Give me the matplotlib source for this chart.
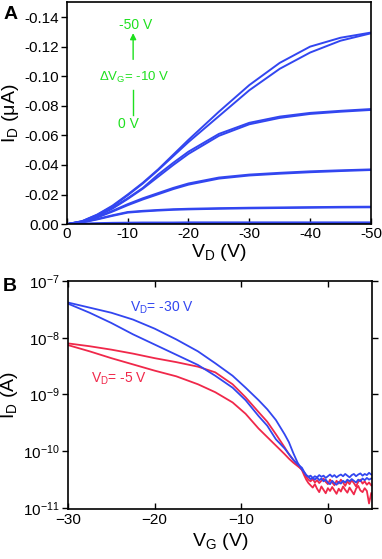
import matplotlib
matplotlib.use('Agg')
import matplotlib.pyplot as plt
import numpy as np

plt.rcParams['font.family'] = ['Liberation Sans', 'DejaVu Sans']
plt.rcParams['mathtext.fontset'] = 'custom'
plt.rcParams['mathtext.rm'] = 'Liberation Sans'
plt.rcParams['mathtext.it'] = 'Liberation Sans'
plt.rcParams['mathtext.default'] = 'regular'

blue = '#3246f0'
red = '#f0284a'
green = '#1ee01e'

# ---- panel A: output curves (VD sweep), forward/backward per VG
vd = [0, -2.5, -5, -7.5, -10, -12.5, -15, -17.5, -20, -25, -30, -35, -40, -45, -50]
id_vg50_f = [0, 0.002, 0.0065, 0.0125, 0.020, 0.028, 0.037, 0.047, 0.057, 0.076, 0.094, 0.109, 0.120, 0.126, 0.1295]
id_vg50_b = [0, 0.002, 0.0063, 0.012, 0.0195, 0.0275, 0.0365, 0.046, 0.0555, 0.073, 0.0905, 0.105, 0.116, 0.124, 0.129]
id_vg40_f = [0, 0.0018, 0.0058, 0.011, 0.0175, 0.0245, 0.0335, 0.0415, 0.049, 0.061, 0.0685, 0.0727, 0.0752, 0.0766, 0.0778]
id_vg40_b = [0, 0.0017, 0.0055, 0.0105, 0.017, 0.024, 0.032, 0.040, 0.0475, 0.0597, 0.0675, 0.0718, 0.0745, 0.076, 0.0772]
id_vg30_f = [0, 0.0015, 0.0048, 0.009, 0.0135, 0.0175, 0.021, 0.0245, 0.0275, 0.0315, 0.0335, 0.0347, 0.0357, 0.0364, 0.037]
id_vg30_b = [0, 0.0014, 0.0045, 0.0085, 0.0128, 0.0167, 0.0202, 0.0237, 0.0267, 0.0308, 0.0329, 0.0341, 0.0351, 0.0359, 0.0366]
id_vg20_f = [0, 0.0012, 0.0035, 0.006, 0.0082, 0.0090, 0.0096, 0.0101, 0.0104, 0.0108, 0.0111, 0.0113, 0.0115, 0.0117, 0.0118]
id_vg20_b = [0, 0.0011, 0.0032, 0.0056, 0.0078, 0.0086, 0.0092, 0.0097, 0.0100, 0.0104, 0.0107, 0.0109, 0.0111, 0.0113, 0.0114]
id_vg10 = [0, 0.0004, 0.0007, 0.0009, 0.0010, 0.0011, 0.0011, 0.0011, 0.0012, 0.0012, 0.0012, 0.0012, 0.0012, 0.0012, 0.0012]
id_vg0 = [0, 0.0001, 0.0002, 0.0002, 0.0002, 0.0002, 0.0002, 0.0002, 0.0002, 0.0002, 0.0002, 0.0002, 0.0002, 0.0002, 0.0002]

# ---- panel B: transfer curves (log10 of ID in A)
vg_smooth = [-30, -27.5, -25, -22.5, -20, -17.5, -15, -13, -11, -9.5, -8, -7, -6, -5, -4.5, -4, -3.5]
vg_tail = list(np.arange(-3, 5.01, 0.25))
blue_up = [-7.38, -7.47, -7.56, -7.68, -7.84, -8.03, -8.24, -8.45, -8.67, -8.88, -9.10, -9.26, -9.45, -9.70, -9.84, -10.03, -10.20,
           -10.32, -10.37, -10.42, -10.45, -10.43, -10.47, -10.44, -10.46, -10.42, -10.45, -10.43, -10.47, -10.44, -10.41, -10.45, -10.42,
           -10.46, -10.43, -10.41, -10.44, -10.40, -10.43, -10.46, -10.42, -10.40, -10.44, -10.41, -10.39, -10.43, -10.40, -10.42, -10.38, -10.41]
blue_lo = [-7.40, -7.56, -7.74, -7.94, -8.12, -8.30, -8.48, -8.67, -8.88, -9.10, -9.38, -9.55, -9.79, -9.95, -10.05, -10.15, -10.23,
           -10.29, -10.36, -10.42, -10.45, -10.49, -10.47, -10.50, -10.46, -10.51, -10.48, -10.53, -10.50, -10.55, -10.58, -10.52, -10.56,
           -10.59, -10.54, -10.57, -10.52, -10.55, -10.50, -10.53, -10.49, -10.52, -10.55, -10.50, -10.53, -10.48, -10.51, -10.47, -10.50, -10.48]
red_up = [-8.10, -8.15, -8.21, -8.28, -8.36, -8.43, -8.51, -8.61, -8.82, -9.05, -9.31, -9.48, -9.70, -9.93, -10.05, -10.15, -10.24,
          -10.33, -10.42, -10.50, -10.56, -10.60, -10.64, -10.58, -10.66, -10.72, -10.62, -10.68, -10.74, -10.65, -10.70, -10.63, -10.69,
          -10.75, -10.66, -10.71, -10.62, -10.68, -10.73, -10.64, -10.70, -10.76, -10.66, -10.61, -10.69, -10.72, -10.65, -10.70, -10.92, -10.74]
red_lo = [-8.13, -8.24, -8.36, -8.47, -8.58, -8.68, -8.82, -8.96, -9.14, -9.34, -9.60, -9.75, -9.90, -10.05, -10.13, -10.20, -10.26,
          -10.32, -10.38, -10.45, -10.50, -10.53, -10.49, -10.55, -10.51, -10.56, -10.52, -10.48, -10.54, -10.58, -10.50, -10.55, -10.60,
          -10.52, -10.57, -10.50, -10.55, -10.61, -10.53, -10.58, -10.51, -10.56, -10.62, -10.54, -10.50, -10.57, -10.53, -10.59, -10.55, -10.60]

fig = plt.figure(figsize=(3.82, 5.59), dpi=100)

# ---------------- panel A
axA = fig.add_axes([0.175, 0.599, 0.796, 0.397])
for ys in [id_vg50_f, id_vg50_b, id_vg40_f, id_vg40_b, id_vg30_f, id_vg30_b,
           id_vg20_f, id_vg20_b, id_vg10, id_vg0]:
    axA.plot(vd, -np.array(ys), color=blue, lw=1.4)
axA.set_xlim(0, -50)
axA.set_ylim(0, -0.15)
axA.set_xticks([0, -10, -20, -30, -40, -50])
axA.set_xticklabels(['0', '-10', '-20', '-30', '-40', '-50'])
axA.set_yticks([0, -0.02, -0.04, -0.06, -0.08, -0.10, -0.12, -0.14])
axA.set_yticklabels(['0.00', '-0.02', '-0.04', '-0.06', '-0.08', '-0.10', '-0.12', '-0.14'])
axA.tick_params(axis='y', direction='out', length=4, width=1, labelsize=11, pad=2)
axA.tick_params(axis='x', direction='in', length=4, width=1, labelsize=11, pad=2)
for s in axA.spines.values():
    s.set_linewidth(1.2)
axA.set_xlabel(r'$\mathrm{V_D}$ (V)', fontsize=14, labelpad=1)
axA.set_ylabel(r'$\mathrm{I_D}$ ($\mu$A)', fontsize=14, labelpad=2)

axA.annotate('', xy=(-10.9, -0.131), xytext=(-10.9, -0.1095),
             arrowprops=dict(arrowstyle='-|>', color=green, lw=1.0, mutation_scale=9))
axA.plot([-10.9, -10.9], [-0.0905, -0.0736], color=green, lw=1.0)
axA.text(-11.3, -0.1345, '-50 V', color=green, fontsize=10, ha='center', va='center')
axA.text(-11.1, -0.0995, r'$\Delta$V$_\mathrm{G}$= -10 V', color=green, fontsize=9.5, ha='center', va='center')
axA.text(-10.2, -0.068, '0 V', color=green, fontsize=10, ha='center', va='center')
fig.text(0.008, 0.99, 'A', fontsize=14, fontweight='bold', va='top', ha='left')

# ---------------- panel B
axB = fig.add_axes([0.178, 0.0894, 0.796, 0.408])
vg_all = vg_smooth + vg_tail
axB.plot(vg_all, 10 ** np.array(red_up), color=red, lw=1.3)
axB.plot(vg_all, 10 ** np.array(red_lo), color=red, lw=1.3)
axB.plot(vg_all, 10 ** np.array(blue_up), color=blue, lw=1.3)
axB.plot(vg_all, 10 ** np.array(blue_lo), color=blue, lw=1.3)
axB.set_yscale('log')
axB.set_xlim(-30, 5.1)
axB.set_ylim(9.6e-12, 1.0e-7)
axB.set_xticks([-30, -20, -10, 0])
axB.set_yticks([1e-11, 1e-10, 1e-9, 1e-8, 1e-7])
axB.minorticks_off()
axB.tick_params(axis='y', which='both', direction='out', length=4, width=1, labelsize=11, pad=2, right=True)
axB.tick_params(axis='x', direction='in', length=4, width=1, labelsize=11, pad=3, top=True)
for s in axB.spines.values():
    s.set_linewidth(1.2)
axB.set_xlabel(r'$\mathrm{V_G}$ (V)', fontsize=14, labelpad=3)
axB.set_ylabel(r'$\mathrm{I_D}$ (A)', fontsize=14, labelpad=2)
axB.text(-22.9, 3.4e-8, r'V$_\mathrm{D}$= -30 V', color=blue, fontsize=10, ha='left', va='center')
axB.text(-27.3, 1.9e-9, r'V$_\mathrm{D}$= -5 V', color=red, fontsize=10, ha='left', va='center')
fig.text(0.008, 0.503, 'B', fontsize=14, fontweight='bold', va='top', ha='left')

fig.savefig('out.png', dpi=100)
